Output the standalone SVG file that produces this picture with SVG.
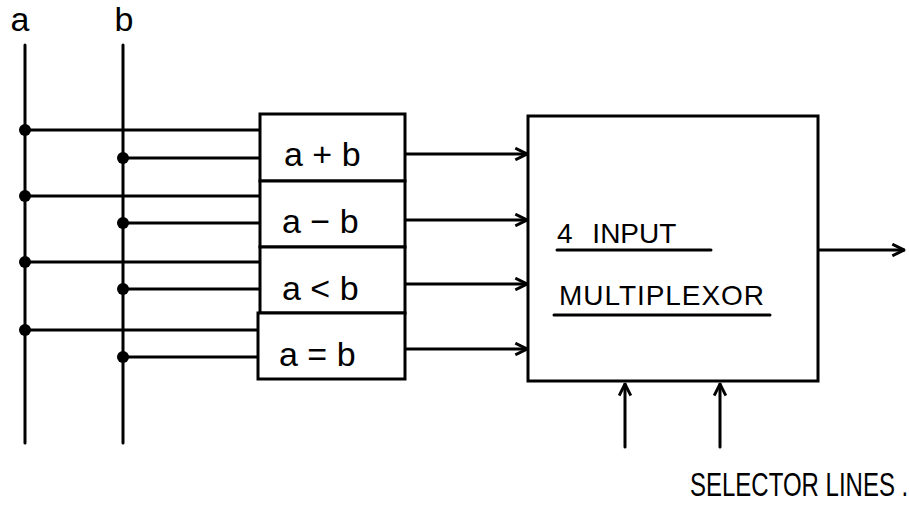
<svg xmlns="http://www.w3.org/2000/svg" width="909" height="505" viewBox="0 0 909 505">
<style>
.w{stroke:#000;stroke-width:3;fill:none;stroke-linecap:round}
.box{stroke:#000;stroke-width:3;fill:#fff}
.t{font-family:"Liberation Sans","DejaVu Sans",sans-serif;fill:#000}
.lbl{font-size:34px}
.cap{font-size:28px}
</style>
<defs>
<marker id="ah" viewBox="0 0 12 12" refX="11" refY="6" markerWidth="14" markerHeight="14" markerUnits="userSpaceOnUse" orient="auto">
<path d="M1,1 L11,6 L1,11" fill="none" stroke="#000" stroke-width="2.5"/>
</marker>
</defs>
<rect width="909" height="505" fill="#fff"/>
<g id="connectors">
<path class="w" d="M25,45 V443"/>
<path class="w" d="M123,45 V443"/>
<path class="w" d="M25,130 H262"/>
<path class="w" d="M123,158 H262"/>
<path class="w" d="M25,196 H262"/>
<path class="w" d="M123,223 H262"/>
<path class="w" d="M25,262 H262"/>
<path class="w" d="M123,289 H262"/>
<path class="w" d="M25,330 H262"/>
<path class="w" d="M123,357 H262"/>
<g fill="#000">
<circle cx="25" cy="130" r="6"/><circle cx="25" cy="196" r="6"/><circle cx="25" cy="262" r="6"/><circle cx="25" cy="330" r="6"/>
<circle cx="123" cy="158" r="6"/><circle cx="123" cy="223" r="6"/><circle cx="123" cy="289" r="6"/><circle cx="123" cy="357" r="6"/>
</g>
<path class="w" d="M405,154 H527" marker-end="url(#ah)"/>
<path class="w" d="M405,220 H527" marker-end="url(#ah)"/>
<path class="w" d="M405,284 H527" marker-end="url(#ah)"/>
<path class="w" d="M405,349 H527" marker-end="url(#ah)"/>
<path class="w" d="M818,250 H904" marker-end="url(#ah)"/>
<path class="w" d="M625,447 V384" marker-end="url(#ah)"/>
<path class="w" d="M720,447 V384" marker-end="url(#ah)"/>
</g>
<g id="input-a"><text class="t lbl" x="20" y="31" text-anchor="middle">a</text></g>
<g id="input-b"><text class="t lbl" x="124" y="31" text-anchor="middle">b</text></g>
<g id="func-add"><rect class="box" x="260" y="114" width="145" height="67"/><text class="t lbl" x="284" y="166">a + b</text></g>
<g id="func-sub"><rect class="box" x="260" y="181" width="145" height="66"/><text class="t lbl" x="282" y="233">a − b</text></g>
<g id="func-lt"><rect class="box" x="260" y="247" width="145" height="66"/><text class="t lbl" x="282" y="300">a &lt; b</text></g>
<g id="func-eq"><rect class="box" x="258" y="313" width="147" height="66"/><text class="t lbl" x="279" y="366">a = b</text></g>
<g id="mux">
<rect class="box" x="528" y="116" width="290" height="265"/>
<text class="t cap" x="557" y="243" word-spacing="12">4 INPUT</text>
<path class="w" d="M557,250 H711"/>
<text class="t cap" x="559" y="305" textLength="205">MULTIPLEXOR</text>
<path class="w" d="M554,315 H770"/>
</g>
<g id="selector-label"><text class="t" font-size="24" transform="translate(690,496) scale(1,1.4)">SELECTOR LINES .</text></g>
</svg>
